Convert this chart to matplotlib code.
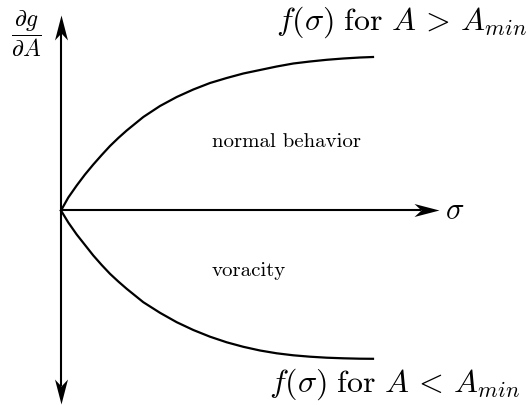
import numpy as np
import matplotlib
matplotlib.use('Agg')
import matplotlib.pyplot as plt
from matplotlib.path import Path

plt.rcParams['mathtext.fontset'] = 'cm'

# curve values (sigma, f)
sigma = [0, 0.073, 0.157, 0.24, 0.323, 0.407, 0.49, 0.573, 0.657, 0.823, 0.99, 1.157,
         1.323, 1.49, 1.657, 1.823, 1.99, 2.157, 2.323, 2.49, 2.657, 2.823, 2.99, 3.12]
f_upper = [0, 0.13, 0.25, 0.36, 0.46, 0.555, 0.645, 0.725, 0.80, 0.935, 1.045, 1.135,
           1.21, 1.275, 1.325, 1.37, 1.405, 1.44, 1.47, 1.49, 1.507, 1.52, 1.53, 1.535]
f_lower = [0, -0.12, -0.24, -0.345, -0.45, -0.545, -0.633, -0.71, -0.783, -0.917, -1.023, -1.117,
           -1.195, -1.262, -1.318, -1.363, -1.4, -1.428, -1.448, -1.462, -1.472, -1.478, -1.482, -1.483]

# axis extents
x_end = 3.78
y_top = 1.955
y_bot = -1.93
head_len = 0.18

label_top = r'$f(\sigma)\ \mathrm{for}\ A\,>\,A_{min}$'
label_bot = r'$f(\sigma)\ \mathrm{for}\ A\,<\,A_{min}$'
region_top = 'normal behavior'
region_bot = 'voracity'


def stealth(angle):
    v = np.array([[0, 0], [-25, 6.5], [-18, 0], [-25, -6.5], [0, 0]], dtype=float)
    a = np.deg2rad(angle)
    rot = np.array([[np.cos(a), -np.sin(a)], [np.sin(a), np.cos(a)]])
    return Path(v @ rot.T)


fig = plt.figure(figsize=(5.31, 4.05), dpi=100)
ax = fig.add_axes([0, 0, 1, 1])
ax.set_xlim(-0.61, 4.70)
ax.set_ylim(-1.945, 2.105)
ax.axis('off')

# axes with arrow heads
ax.plot([0, x_end - head_len], [0, 0], color='k', lw=1.5, solid_capstyle='butt')
ax.plot([0, 0], [y_bot + head_len, y_top - head_len], color='k', lw=1.5, solid_capstyle='butt')
ax.plot(x_end, 0, marker=stealth(0), ms=36, color='k', mew=0)
ax.plot(0, y_top, marker=stealth(90), ms=36, color='k', mew=0)
ax.plot(0, y_bot, marker=stealth(-90), ms=36, color='k', mew=0)

# curves
ax.plot(sigma, f_upper, color='k', lw=1.6)
ax.plot(sigma, f_lower, color='k', lw=1.6)

# labels
ax.text(-0.35, 1.765, r'$\dfrac{\partial g}{\partial A}$', fontsize=17, ha='center', va='center')
ax.text(3.94, 0.0, r'$\sigma$', fontsize=22, ha='center', va='center')
ax.text(4.665, 1.88, label_top, fontsize=23, ha='right', va='center')
ax.text(4.595, -1.74, label_bot, fontsize=23, ha='right', va='center')
ax.text(1.51, 0.685, region_top, fontsize=15, family='cmr10', ha='left', va='center')
ax.text(1.51, -0.60, region_bot, fontsize=15, family='cmr10', ha='left', va='center')

fig.savefig('out.png', dpi=100)
